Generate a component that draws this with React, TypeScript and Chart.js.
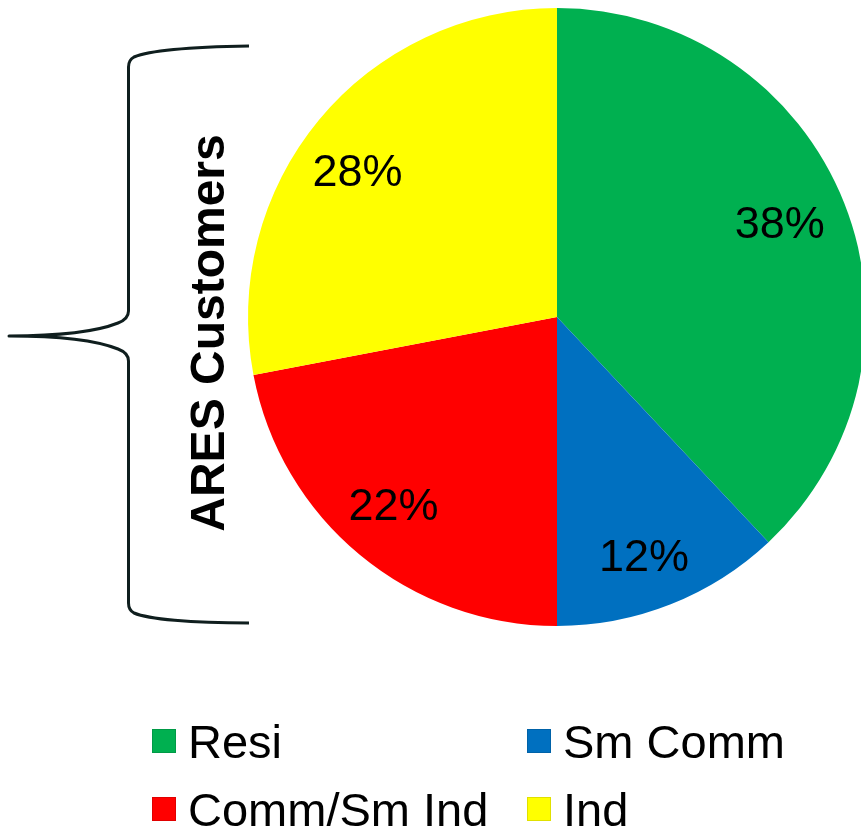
import { useEffect, useRef } from "react";
import { Chart, registerables } from "chart.js";

Chart.register(...registerables);

// Customer mix by class
const categories = ["Resi", "Sm Comm", "Comm/Sm Ind", "Ind"];
const shares = [38, 12, 22, 28];
const sliceColors = ["#00B050", "#0070C0", "#FF0000", "#FFFF00"];
const groupTitle = "ARES Customers";

// Fine-tuning of where each percentage label sits, relative to its slice anchor
const labelNudges = [
  [-7, -4],
  [-4, 8],
  [-6, -4],
  [-9, 10],
];

const FONT = '"Liberation Sans", Arial, sans-serif';
const INK = "#0F1E1E";

const sliceLabels = {
  id: "sliceLabels",
  afterDatasetsDraw(chart: any) {
    const { ctx } = chart;
    const meta = chart.getDatasetMeta(0);
    const size = 45;
    ctx.save();
    ctx.font = `${size}px ${FONT}`;
    ctx.fillStyle = "#000";
    ctx.textAlign = "center";
    ctx.textBaseline = "alphabetic";
    meta.data.forEach((arc: any, i: number) => {
      const { x, y, startAngle, endAngle, outerRadius } = arc.getProps(
        ["x", "y", "startAngle", "endAngle", "outerRadius"],
        true
      );
      const mid = (startAngle + endAngle) / 2;
      const r = outerRadius * 0.8;
      const cx = x + Math.cos(mid) * r + labelNudges[i][0];
      const cy = y + Math.sin(mid) * r + labelNudges[i][1];
      ctx.fillText(`${shares[i]}%`, cx, cy + size * 0.358);
    });
    ctx.restore();
  },
};

const sideDecor = {
  id: "sideDecor",
  afterDraw(chart: any) {
    const { ctx } = chart;
    ctx.save();

    // curly brace grouping the classes
    ctx.strokeStyle = INK;
    ctx.lineWidth = 3;
    ctx.lineJoin = "round";
    ctx.lineCap = "butt";
    ctx.beginPath();
    ctx.moveTo(249, 46);
    ctx.bezierCurveTo(190, 47, 148, 51, 134, 57);
    ctx.quadraticCurveTo(128.5, 60, 128.5, 67);
    ctx.lineTo(128.5, 311);
    ctx.quadraticCurveTo(128.5, 319, 118, 323);
    ctx.bezierCurveTo(98, 331, 62, 336, 9, 336);
    ctx.bezierCurveTo(62, 336, 98, 341, 118, 349);
    ctx.quadraticCurveTo(128.5, 353, 128.5, 361);
    ctx.lineTo(128.5, 603);
    ctx.quadraticCurveTo(128.5, 610, 134, 613);
    ctx.bezierCurveTo(148, 619, 190, 623, 249, 623);
    ctx.stroke();

    // vertical group title
    const tSize = 48;
    ctx.translate(207, 333);
    ctx.rotate(-Math.PI / 2);
    ctx.font = `bold ${tSize}px ${FONT}`;
    ctx.fillStyle = "#000";
    ctx.textAlign = "center";
    ctx.textBaseline = "alphabetic";
    ctx.fillText(groupTitle, 0, tSize * 0.358);
    ctx.restore();

    // two-column legend
    ctx.save();
    const lSize = 47;
    ctx.font = `${lSize}px ${FONT}`;
    ctx.textAlign = "left";
    ctx.textBaseline = "alphabetic";
    const colX = [152, 527];
    const rowTop = [729, 797];
    categories.forEach((name, i) => {
      const bx = colX[i % 2];
      const by = rowTop[Math.floor(i / 2)];
      ctx.fillStyle = sliceColors[i];
      ctx.fillRect(bx, by, 24, 24);
      ctx.strokeStyle = "rgba(0,0,0,0.12)";
      ctx.lineWidth = 1;
      ctx.strokeRect(bx + 0.5, by + 0.5, 23, 23);
      ctx.fillStyle = "#000";
      ctx.fillText(name, bx + 36, by + 12 + lSize * 0.358);
    });
    ctx.restore();
  },
};

export default function App() {
  const canvasRef = useRef<HTMLCanvasElement | null>(null);

  useEffect(() => {
    document.body.style.margin = "0";
    const canvas = canvasRef.current;
    if (!canvas) return;
    const chart = new Chart(canvas, {
      type: "pie",
      data: {
        labels: categories,
        datasets: [
          {
            data: shares,
            backgroundColor: sliceColors,
            borderWidth: 0,
          },
        ],
      },
      options: {
        responsive: false,
        animation: false,
        devicePixelRatio: 1,
        layout: { padding: { left: 248, right: 14, top: 8, bottom: 202 } },
        plugins: {
          legend: { display: false },
          tooltip: { enabled: false },
        },
      },
      plugins: [sliceLabels, sideDecor],
    });
    return () => chart.destroy();
  }, []);

  return (
    <div style={{ width: 861, height: 828, overflow: "hidden", position: "relative", background: "#fff" }}>
      <canvas ref={canvasRef} width={880} height={828} style={{ display: "block" }} />
    </div>
  );
}
